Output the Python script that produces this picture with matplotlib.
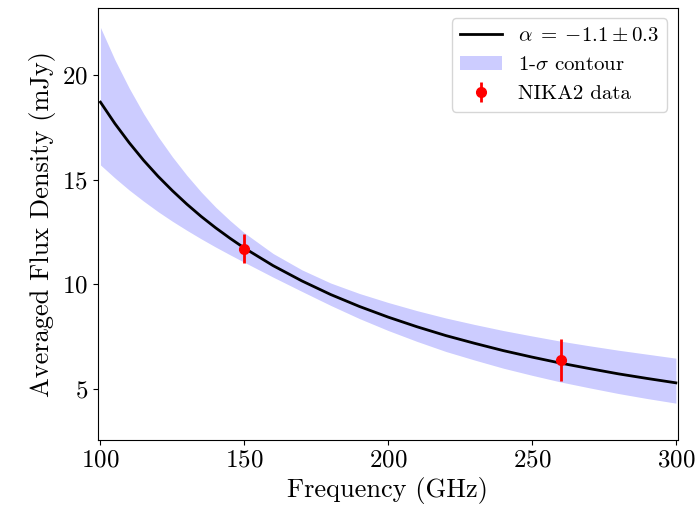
import numpy as np
import matplotlib
matplotlib.use("Agg")
import matplotlib.pyplot as plt

plt.rcParams['font.family'] = 'serif'
plt.rcParams['font.serif'] = ['cmr10']
plt.rcParams['mathtext.fontset'] = 'cm'
plt.rcParams['axes.formatter.use_mathtext'] = True

# model curve and 1-sigma envelope
# (5 GHz steps where the curve bends most, 10 GHz after)
freq = [100, 105, 110, 115, 120, 125, 130, 135, 140, 145, 150, 160, 170, 180, 190, 200,
        210, 220, 230, 240, 250, 260, 270, 280, 290, 300]
flux = [18.70, 17.68, 16.76, 15.92, 15.16, 14.47, 13.83, 13.24, 12.70, 12.20, 11.73,
        10.89, 10.16, 9.51, 8.94, 8.43,
        7.97, 7.55, 7.18, 6.83, 6.52, 6.23, 5.97, 5.72, 5.50, 5.29]
flux_hi = [22.27, 20.73, 19.37, 18.15, 17.06, 16.09, 15.21, 14.41, 13.69, 13.05, 12.46,
           11.47, 10.69, 10.06, 9.56, 9.13,
           8.74, 8.39, 8.08, 7.79, 7.53, 7.28, 7.06, 6.85, 6.66, 6.47]
flux_lo = [15.70, 15.08, 14.50, 13.97, 13.47, 13.01, 12.58, 12.17, 11.78, 11.41, 11.05,
           10.34, 9.66, 8.99, 8.36, 7.79,
           7.27, 6.79, 6.38, 5.99, 5.65, 5.33, 5.05, 4.78, 4.54, 4.32]

# NIKA2 measurements
nika_freq = [150, 260]
nika_flux = [11.7, 6.4]
nika_err = [0.7, 1.0]

fig = plt.figure(figsize=(6.95, 5.14), dpi=100)
ax = fig.add_axes([0.1404, 0.144, 0.835, 0.8405])

ax.plot(freq, flux, color='black', lw=2, label=r'$\alpha\;=\;{-}1.1 \pm 0.3$', zorder=3)
ax.fill_between(freq, flux_lo, flux_hi, color='blue', alpha=0.2, lw=0,
                label=r'1-$\sigma$ contour')
ax.errorbar(nika_freq, nika_flux, yerr=nika_err, fmt='o', color='red',
            ms=7, elinewidth=2, capsize=0, label='NIKA2 data', zorder=4)

ax.set_xlim(99, 300.7)
ax.set_ylim(2.56, 23.2)
ax.set_xticks([100, 150, 200, 250, 300])
ax.set_yticks([5, 10, 15, 20])
ax.tick_params(labelsize=18)
ax.set_xlabel('Frequency (GHz)', fontsize=19)
ax.set_ylabel('Averaged Flux Density (mJy)', fontsize=19)

ax.legend(loc='upper right', fontsize=15)

fig.savefig('out.png', dpi=100)
